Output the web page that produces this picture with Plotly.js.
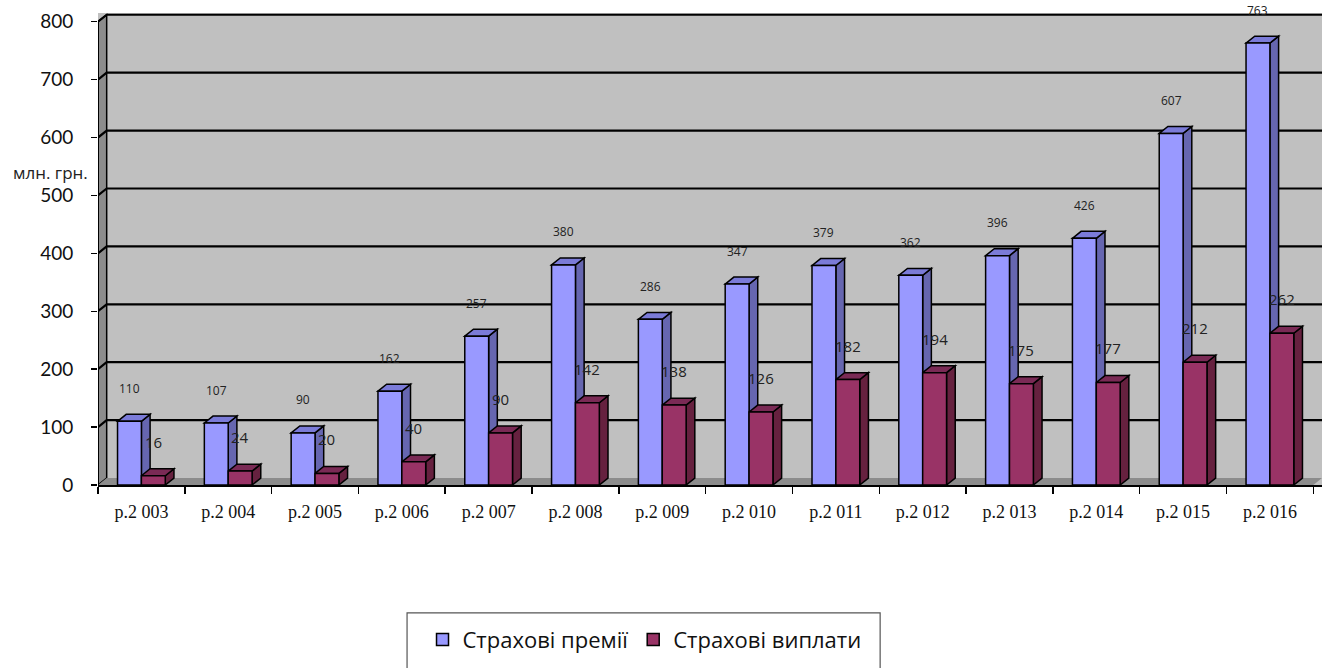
<!DOCTYPE html>
<html><head><meta charset="utf-8">
<script src="https://cdn.plot.ly/plotly-3.0.1.min.js"></script>
<style>html,body{margin:0;padding:0;background:#fff}#chart{width:1330px;height:668px}</style>
</head><body><div id="chart"></div>
<script>
const years = ['р.2 003','р.2 004','р.2 005','р.2 006','р.2 007','р.2 008','р.2 009','р.2 010','р.2 011','р.2 012','р.2 013','р.2 014','р.2 015','р.2 016'];
const premiums = [110,107,90,162,257,380,286,347,379,362,396,426,607,763];
const payments = [16,24,20,40,90,142,138,126,182,194,175,177,212,262];
const yTicks = [0,100,200,300,400,500,600,700,800];

const idx = years.map((_, i) => i);
const W = 0.275, DX = 0.1, DY = 12;
const n = years.length;
const xMin = -0.5, xMax = n - 0.5 + DX, yTop = 800;

const shapes = [];
shapes.push({type:'path', layer:'below', xref:'x', yref:'y', fillcolor:'#8c8c8c', line:{color:'black', width:1.5},
  path:`M ${xMin},0 L ${xMin+DX},${DY} L ${xMin+DX},${yTop+DY} L ${xMin},${yTop} Z`});
shapes.push({type:'path', layer:'below', xref:'x', yref:'y', fillcolor:'#8c8c8c', line:{color:'#8c8c8c', width:0},
  path:`M ${xMin},0 L ${n-0.5},0 L ${n-0.5+DX},${DY} L ${xMin+DX},${DY} Z`});
yTicks.forEach(v => {
  if (v === 0) return;
  shapes.push({type:'path', layer:'below', xref:'x', yref:'y', line:{color:'black', width:2.2},
    path:`M ${xMin},${v} L ${xMin+DX},${v+DY} L ${xMax},${v+DY}`});
});
shapes.push({type:'line', layer:'above', xref:'x', yref:'y', x0:xMin, x1:xMin, y0:0, y1:yTop, line:{color:'black', width:2}});

function box3d(left, right, v, side, top) {
  shapes.push({type:'path', layer:'between', xref:'x', yref:'y', fillcolor:side, line:{color:'black', width:1.5},
    path:`M ${right},0 L ${right+DX},${DY} L ${right+DX},${v+DY} L ${right},${v} Z`});
  shapes.push({type:'path', layer:'between', xref:'x', yref:'y', fillcolor:top, line:{color:'black', width:1.5},
    path:`M ${left},${v} L ${left+DX},${v+DY} L ${right+DX},${v+DY} L ${right},${v} Z`});
}
idx.forEach(i => {
  box3d(i - W, i, premiums[i], '#6666b0', '#7b7bd8');
  box3d(i, i + W, payments[i], '#66213f', '#7a2a55');
});

const annotations = [];
idx.forEach(i => {
  annotations.push({x: i - W/2, y: premiums[i], xref:'x', yref:'y', yshift: 33, showarrow:false,
    text: String(premiums[i]), font:{family:'Open Sans', size:12, color:'#222'}});
  annotations.push({x: i + W/2, y: payments[i], xref:'x', yref:'y', yshift: 34, showarrow:false,
    text: String(payments[i]), font:{family:'Open Sans', size:15, color:'#222'}});
});
annotations.push({xref:'paper', yref:'paper', x:-0.039, xanchor:'center', y:0.663, yanchor:'middle', showarrow:false, text:'млн. грн.',
  font:{family:'Open Sans', size:17, color:'#222'}});

shapes.push({type:'rect', xref:'paper', yref:'paper', x0:0.2525, x1:0.639, y0:-0.45, y1:-0.271,
  line:{color:'#555', width:1.2}, fillcolor:'rgba(0,0,0,0)'});

const minorVals = [];
for (let k = 0; k <= n; k++) minorVals.push(k - 0.5);

const traces = [
  {type:'bar', name:'Страхові премії', x: idx, y: premiums, marker:{color:'#9999ff', line:{color:'black', width:1.5}}, hoverinfo:'y'},
  {type:'bar', name:'Страхові виплати', x: idx, y: payments, marker:{color:'#993366', line:{color:'black', width:1.5}}, hoverinfo:'y'}
];

const layout = {
  width:1330, height:668,
  margin:{l:98, r:8, t:13, b:183, autoexpand:false},
  paper_bgcolor:'white', plot_bgcolor:'#c0c0c0',
  barmode:'group', bargap:0.45, bargroupgap:0,
  showlegend:true,
  legend:{orientation:'h', x:0.4465, xanchor:'center', y:-0.328, yanchor:'middle', itemwidth:30,
    font:{family:'Open Sans', size:22, color:'#111'}, bgcolor:'rgba(0,0,0,0)', borderwidth:0},
  xaxis:{range:[xMin, xMax], tickmode:'array', tickvals: idx, ticktext: years, ticks:'', showgrid:false, zeroline:false,
    showline:true, linecolor:'black', linewidth:2, ticklabelstandoff:9, automargin:false,
    tickfont:{family:'Liberation Serif', size:18, color:'#111'},
    minor:{tickmode:'array', tickvals: minorVals, ticks:'outside', ticklen:7, tickcolor:'black', tickwidth:1.5, showgrid:false}},
  yaxis:{range:[0, 815], tickmode:'array', tickvals: yTicks, ticks:'outside', ticklen:6, tickcolor:'black', tickwidth:1.5,
    showgrid:false, zeroline:false, showline:false, ticklabelstandoff:14, automargin:false,
    tickfont:{family:'Lato', size:19, color:'#111'}},
  shapes: shapes,
  annotations: annotations
};
Plotly.newPlot('chart', traces, layout, {displayModeBar:false, staticPlot:true});
</script>
</body></html>
